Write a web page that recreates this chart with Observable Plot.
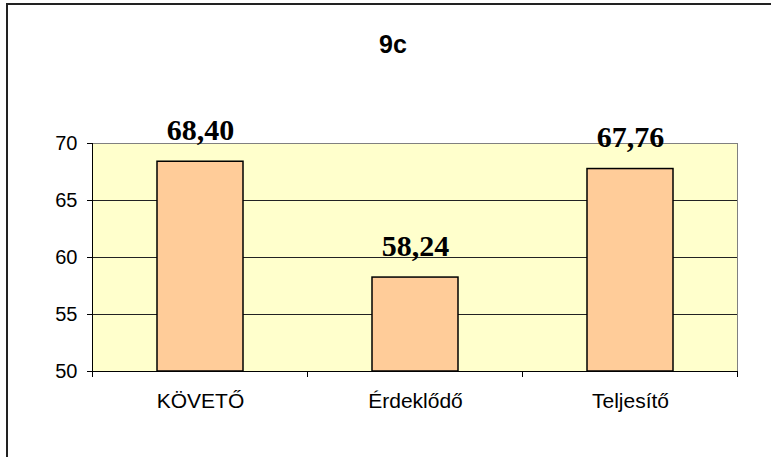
<!DOCTYPE html>
<html>
<head>
<meta charset="utf-8">
<script src="https://cdn.jsdelivr.net/npm/d3@7"></script>
<script src="https://cdn.jsdelivr.net/npm/@observablehq/plot@0.6"></script>
<style>
  html, body { margin: 0; padding: 0; background: #fff; overflow: hidden; }
  #wrap { position: relative; width: 771px; height: 457px; overflow: hidden; }
  #border { position: absolute; left: 6px; top: 3px; width: 900px; height: 600px;
            border-left: 2px solid #222; border-top: 2px solid #222; }
  #title { position: absolute; left: 343px; width: 100px; top: 32px; text-align: center;
           font: bold 25px/25px "Liberation Sans", Arial, sans-serif; color: #000; }
  #chart { position: absolute; left: 0; top: 0; }
</style>
</head>
<body>
<div id="wrap">
  <div id="border"></div>
  <div id="chart"></div>
  <div id="title"></div>
</div>
<script>
const title = "9c";
const categories = ["KÖVETŐ", "Érdeklődő", "Teljesítő"];
const values = [68.40, 58.24, 67.76];
const yTicks = [50, 55, 60, 65, 70];

document.getElementById("title").textContent = title;

const data = categories.map((c, i) => ({cat: c, value: values[i]}));

// category-boundary ticks below the x axis, positioned from the band scale
function boundaryTicks(index, scales, values, dimensions) {
  const x = scales.x;
  const bw = x.bandwidth();
  const step = categories.length > 1 ? x(categories[1]) - x(categories[0]) : bw;
  const gap = (step - bw) / 2;
  const xs = categories.map(c => x(c) - gap);
  xs.push(x(categories[categories.length - 1]) + bw + gap);
  const yb = dimensions.height - dimensions.marginBottom;
  const g = d3.create("svg:g");
  for (const xv of xs) {
    g.append("line").attr("x1", xv).attr("x2", xv).attr("y1", yb).attr("y2", yb + 6)
      .attr("stroke", "#000").attr("stroke-width", 1);
  }
  return g.node();
}

const chart = Plot.plot({
  width: 771,
  height: 457,
  marginLeft: 92,
  marginRight: 34,
  marginTop: 143,
  marginBottom: 86,
  style: {fontFamily: "'Liberation Sans', Arial, sans-serif", background: "transparent", color: "#000"},
  x: {domain: categories, paddingInner: 0.6, paddingOuter: 0.3},
  y: {domain: [50, 70]},
  marks: [
    Plot.frame({fill: "#FFFFCC", stroke: null}),
    Plot.ruleY(yTicks.slice(1, -1), {stroke: "#222"}),
    Plot.frame({stroke: "#808080"}),
    Plot.barY(data, {x: "cat", y1: 50, y2: "value", fill: "#FFCC99", stroke: "#000", strokeWidth: 1.5}),
    Plot.frame({anchor: "left", stroke: "#000"}),
    Plot.frame({anchor: "bottom", stroke: "#000"}),
    boundaryTicks,
    Plot.axisY({ticks: yTicks, tickSize: 5, tickPadding: 10, fontSize: 20, tickFormat: d => String(d), label: null}),
    Plot.axisX({tickSize: 0, tickPadding: 22, fontSize: 21, label: null}),
    Plot.text(data, {
      x: "cat", y: "value",
      text: d => d.value.toFixed(2).replace(".", ","),
      dy: -22, lineAnchor: "bottom",
      fontSize: 30, fontWeight: "bold",
      fontFamily: "'Liberation Serif', 'Times New Roman', serif",
      fill: "#000"
    })
  ]
});
document.getElementById("chart").appendChild(chart);
</script>
</body>
</html>
